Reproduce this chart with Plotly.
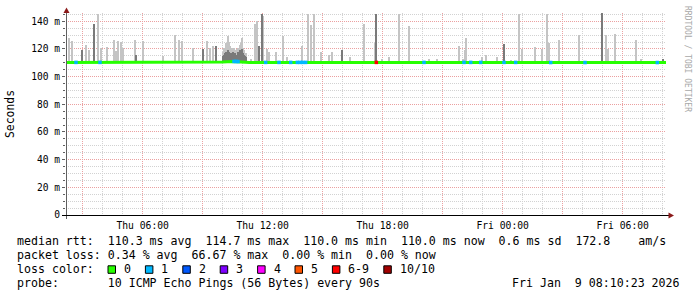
import plotly.graph_objects as go

# ---------------- data ----------------
T_START = "2026-01-08 02:10"
T_END = "2026-01-09 08:10"

median_times = ["2026-01-08 02:10", "2026-01-08 09:50", "2026-01-08 10:00", "2026-01-08 10:30",
                "2026-01-08 11:10", "2026-01-08 11:20", "2026-01-09 08:10"]
median_values = [110.3, 110.3, 110.6, 111.0, 110.6, 110.3, 110.2]

light_times = [
    "2026-01-08 02:19", "2026-01-08 02:28", "2026-01-08 03:10", "2026-01-08 03:20", "2026-01-08 03:46",
    "2026-01-08 03:56", "2026-01-08 04:14", "2026-01-08 04:34", "2026-01-08 04:41", "2026-01-08 04:47",
    "2026-01-08 04:56", "2026-01-08 05:00", "2026-01-08 05:38", "2026-01-08 06:00", "2026-01-08 07:00",
    "2026-01-08 07:38", "2026-01-08 07:50", "2026-01-08 07:58", "2026-01-08 08:30", "2026-01-08 09:12",
    "2026-01-08 09:22", "2026-01-08 09:30",
    "2026-01-08 10:01", "2026-01-08 10:04", "2026-01-08 10:07", "2026-01-08 10:10", "2026-01-08 10:13",
    "2026-01-08 10:16", "2026-01-08 10:19", "2026-01-08 10:22", "2026-01-08 10:25", "2026-01-08 10:28",
    "2026-01-08 10:31", "2026-01-08 10:34", "2026-01-08 10:37", "2026-01-08 10:40", "2026-01-08 10:43",
    "2026-01-08 10:46", "2026-01-08 10:49", "2026-01-08 10:52", "2026-01-08 10:55", "2026-01-08 10:57",
    "2026-01-08 11:00", "2026-01-08 11:03", "2026-01-08 11:07", "2026-01-08 11:10",
    "2026-01-08 11:24", "2026-01-08 11:38", "2026-01-08 11:44", "2026-01-08 12:02", "2026-01-08 12:14",
    "2026-01-08 12:19", "2026-01-08 12:39", "2026-01-08 13:01", "2026-01-08 13:12", "2026-01-08 13:57",
    "2026-01-08 14:17", "2026-01-08 14:24", "2026-01-08 14:34", "2026-01-08 14:56", "2026-01-08 15:19",
    "2026-01-08 15:29", "2026-01-08 16:22", "2026-01-08 17:04", "2026-01-08 17:36", "2026-01-08 17:59",
    "2026-01-08 18:19", "2026-01-08 18:50", "2026-01-08 19:20", "2026-01-08 20:19", "2026-01-08 20:42",
    "2026-01-08 21:49", "2026-01-08 22:00", "2026-01-08 22:06", "2026-01-08 22:11", "2026-01-08 22:59",
    "2026-01-08 23:09", "2026-01-08 23:44", "2026-01-09 00:24", "2026-01-09 00:50", "2026-01-09 00:59",
    "2026-01-09 01:38", "2026-01-09 01:59", "2026-01-09 02:14", "2026-01-09 02:18", "2026-01-09 02:50",
    "2026-01-09 03:50", "2026-01-09 05:09", "2026-01-09 05:12", "2026-01-09 05:17", "2026-01-09 05:38",
    "2026-01-09 06:39", "2026-01-09 06:54",
]
light_tops = [
    127.7, 125.8, 123.0, 119.0, 145.0,
    121.0, 121.6, 126.6, 118.5, 125.8,
    125.0, 121.0, 126.6, 125.8, 115.0,
    130.2, 126.6, 125.8, 120.6, 125.8,
    120.6, 122.0,
    118.0, 121.0, 119.0, 124.0, 122.0,
    129.5, 125.0, 122.0, 120.0, 121.0,
    119.0, 121.0, 118.0, 119.0, 120.0,
    121.0, 119.0, 123.0, 124.0, 128.0,
    121.0, 119.0, 117.0, 117.0,
    113.0, 138.4, 140.3, 144.0, 120.0,
    118.0, 118.0, 129.5, 114.0, 122.2,
    145.0, 137.4, 145.0, 118.0, 116.0,
    118.0, 114.0, 137.9, 124.6, 113.0,
    114.0, 145.0, 136.7, 113.0, 113.0,
    122.0, 113.0, 119.4, 127.7, 114.0,
    116.0, 114.0, 112.0, 145.0, 120.0,
    121.6, 120.0, 145.0, 124.6, 126.6,
    129.9, 130.2, 120.0, 120.0, 131.1,
    126.6, 113.0,
]

dark_times = [
    "2026-01-08 02:58", "2026-01-08 03:34", "2026-01-08 05:40", "2026-01-08 09:00", "2026-01-08 09:39",
    "2026-01-08 10:00", "2026-01-08 10:03", "2026-01-08 10:06", "2026-01-08 10:09", "2026-01-08 10:12",
    "2026-01-08 10:15", "2026-01-08 10:18", "2026-01-08 10:21", "2026-01-08 10:24", "2026-01-08 10:27",
    "2026-01-08 10:30", "2026-01-08 10:33", "2026-01-08 10:36", "2026-01-08 10:39", "2026-01-08 10:42",
    "2026-01-08 10:45", "2026-01-08 10:48", "2026-01-08 10:51", "2026-01-08 10:54", "2026-01-08 10:57",
    "2026-01-08 11:00", "2026-01-08 11:03", "2026-01-08 11:06", "2026-01-08 11:09",
    "2026-01-08 11:50", "2026-01-08 11:59", "2026-01-08 15:59", "2026-01-08 17:41", "2026-01-09 00:04",
    "2026-01-09 04:59", "2026-01-09 08:01",
]
dark_tops = [
    119.0, 137.9, 116.0, 120.0, 122.2,
    115.0, 116.0, 117.0, 118.0, 117.0,
    119.0, 118.0, 117.0, 116.0, 117.0,
    118.0, 116.0, 117.0, 115.0, 116.0,
    118.0, 117.0, 119.0, 118.0, 120.0,
    117.0, 116.0, 115.0, 114.0,
    122.0, 145.0, 119.0, 145.0, 123.4,
    146.0, 113.0,
]

loss_times = [
    "2026-01-08 02:40", "2026-01-08 03:52", "2026-01-08 10:34", "2026-01-08 10:40", "2026-01-08 10:46",
    "2026-01-08 12:09", "2026-01-08 12:49", "2026-01-08 13:24", "2026-01-08 13:44", "2026-01-08 13:52",
    "2026-01-08 14:00", "2026-01-08 14:09", "2026-01-08 17:41", "2026-01-08 20:04", "2026-01-08 22:04",
    "2026-01-08 22:24", "2026-01-08 22:54", "2026-01-09 00:04", "2026-01-09 00:39", "2026-01-09 02:24",
    "2026-01-09 04:07", "2026-01-09 07:44",
]
loss_levels = [1, 1, 1, 1, 1, 1, 1, 1, 1, 1, 1, 1, 6, 1, 1, 1, 1, 1, 1, 1, 1, 1]
loss_values = [110.3, 110.3, 111.0, 111.0, 110.9, 110.3, 110.3, 110.3, 110.3, 110.3,
               110.3, 110.3, 110.3, 110.3, 110.3, 110.3, 110.3, 110.3, 110.3, 110.2,
               110.2, 110.2]

loss_labels = ["0", "1", "2", "3", "4", "5", "6-9", "10/10"]
loss_colors = ["#26ff00", "#00b8ff", "#0059ff", "#7e00ff", "#ff00ff", "#ff5500", "#ff0000", "#a10000"]

y_tick_vals = [0, 20, 40, 60, 80, 100, 120, 140]
y_tick_text = ["0", "20 m", "40 m", "60 m", "80 m", "100 m", "120 m", "140 m"]
x_tick_vals = ["2026-01-08 03:00", "2026-01-08 06:00", "2026-01-08 09:00", "2026-01-08 12:00",
               "2026-01-08 15:00", "2026-01-08 18:00", "2026-01-08 21:00", "2026-01-09 00:00",
               "2026-01-09 03:00", "2026-01-09 06:00"]
x_tick_text = ["", "Thu 06:00", "", "Thu 12:00", "", "Thu 18:00", "", "Fri 00:00", "", "Fri 06:00"]

legend_lines = [
    "median rtt:  110.3 ms avg  114.7 ms max  110.0 ms min  110.0 ms now  0.6 ms sd  172.8    am/s",
    "packet loss: 0.34 % avg  66.67 % max  0.00 % min  0.00 % now",
    "loss color:",
    "probe:       10 ICMP Echo Pings (56 Bytes) every 90s",
]
date_stamp = "Fri Jan  9 08:10:23 2026"

# ---------------- layout helpers ----------------
W, H = 697, 297
ML, MR, MT, MB = 66, 31, 13, 82
PW, PH = W - ML - MR, H - MT - MB
MONO = "DejaVu Sans Mono"
BAR_W = 200000  # ms, about one pixel


def px(x):
    return (x - ML) / PW


def py(y):
    return (H - MB - y) / PH


def nb(s):
    return s.replace(" ", "\u00a0")


fig = go.Figure()

base_l = [median_values[0]] * len(light_times)
fig.add_trace(go.Bar(x=light_times, y=[t - b for t, b in zip(light_tops, base_l)], base=base_l,
                     width=BAR_W, marker=dict(color="#c4c4c4", line=dict(width=0)),
                     hoverinfo="skip", showlegend=False))
base_d = [median_values[0]] * len(dark_times)
fig.add_trace(go.Bar(x=dark_times, y=[t - b for t, b in zip(dark_tops, base_d)], base=base_d,
                     width=BAR_W, marker=dict(color="#7a7a7a", line=dict(width=0)),
                     hoverinfo="skip", showlegend=False))
fig.add_trace(go.Scatter(x=median_times, y=median_values, mode="lines",
                         line=dict(color=loss_colors[0], width=3), hoverinfo="skip", showlegend=False))
fig.add_trace(go.Scatter(x=loss_times, y=loss_values, mode="markers",
                         marker=dict(symbol="square", size=3.5, color=[loss_colors[l] for l in loss_levels],
                                     line=dict(width=0)),
                         hoverinfo="skip", showlegend=False))

shapes = []
annotations = []

# axes lines and arrows
shapes.append(dict(type="line", xref="paper", yref="paper", x0=px(66.5), x1=px(66.5), y0=py(219), y1=py(12),
                   line=dict(color="#606060", width=1)))
shapes.append(dict(type="line", xref="paper", yref="paper", x0=px(62), x1=px(669), y0=py(215.5), y1=py(215.5),
                   line=dict(color="#000000", width=1)))
shapes.append(dict(type="path", xref="paper", yref="paper",
                   path=f"M {px(63.5)},{py(13)} L {px(69.5)},{py(13)} L {px(66.5)},{py(7.5)} Z",
                   fillcolor="#8b1a1a", line=dict(width=0)))
shapes.append(dict(type="path", xref="paper", yref="paper",
                   path=f"M {px(668.5)},{py(212.5)} L {px(668.5)},{py(218.5)} L {px(674)},{py(215.5)} Z",
                   fillcolor="#8b1a1a", line=dict(width=0)))

# text rows
row_y = [241.5, 255.3, 269.3, 283.3]
for i, txt in enumerate(legend_lines):
    annotations.append(dict(text=nb(txt), x=px(15), y=py(row_y[i]), xref="paper", yref="paper",
                            xanchor="left", yanchor="middle", showarrow=False,
                            font=dict(family=MONO, size=11.6, color="#000")))
annotations.append(dict(text=nb(date_stamp), x=px(682), y=py(row_y[3]), xref="paper", yref="paper",
                        xanchor="right", yanchor="middle", showarrow=False,
                        font=dict(family=MONO, size=11.6, color="#000")))

# loss colour boxes
bx = 108.0
for lab, col in zip(loss_labels, loss_colors):
    shapes.append(dict(type="rect", xref="paper", yref="paper", x0=px(bx), x1=px(bx + 7.5),
                       y0=py(273.3), y1=py(265.8), fillcolor=col, line=dict(color="#000", width=1)))
    annotations.append(dict(text=nb(lab), x=px(bx + 14), y=py(row_y[2]), xref="paper", yref="paper",
                            xanchor="left", yanchor="middle", showarrow=False,
                            font=dict(family=MONO, size=11.6, color="#000")))
    bx += 30.4 + 7.0 * len(lab)

annotations.append(dict(text="Seconds", x=px(10), y=py(114), xref="paper", yref="paper", textangle=-90,
                        xanchor="center", yanchor="middle", showarrow=False,
                        font=dict(family=MONO, size=11.4, color="#000")))
annotations.append(dict(text=nb("RRDTOOL / TOBI OETIKER"), x=px(687), y=py(59), xref="paper", yref="paper",
                        textangle=90, xanchor="center", yanchor="middle", showarrow=False,
                        font=dict(family=MONO, size=8, color="#a8a8a8")))

fig.update_layout(
    width=W, height=H, margin=dict(l=ML, r=MR, t=MT, b=MB, pad=0),
    paper_bgcolor="#ffffff", plot_bgcolor="#ffffff", barmode="overlay", bargap=0,
    showlegend=False, shapes=shapes, annotations=annotations,
    xaxis=dict(type="date", range=[T_START, T_END], tickmode="array", tickvals=x_tick_vals,
               ticktext=x_tick_text, showgrid=True, gridcolor="#eba0a0", griddash="1px,1px", gridwidth=1,
               ticks="", showline=False, zeroline=False, ticklabelstandoff=3,
               tickfont=dict(family=MONO, size=9.7, color="#000"),
               minor=dict(dtick=3600000, tick0="2026-01-08 00:00", showgrid=True, gridcolor="#d2d2d2",
                          griddash="1px,1px", gridwidth=1, ticks="")),
    yaxis=dict(range=[0, 146], tickmode="array", tickvals=y_tick_vals, ticktext=y_tick_text,
               showgrid=True, gridcolor="#eba0a0", griddash="1px,1px", gridwidth=1,
               ticks="outside", ticklen=3, tickcolor="#606060", showline=False, zeroline=False,
               tickfont=dict(family=MONO, size=9.6, color="#000"),
               minor=dict(dtick=5, showgrid=True, gridcolor="#d2d2d2", griddash="1px,1px", gridwidth=1,
                          ticks="outside", ticklen=2, tickcolor="#606060")),
)

fig.write_html("out.html")
